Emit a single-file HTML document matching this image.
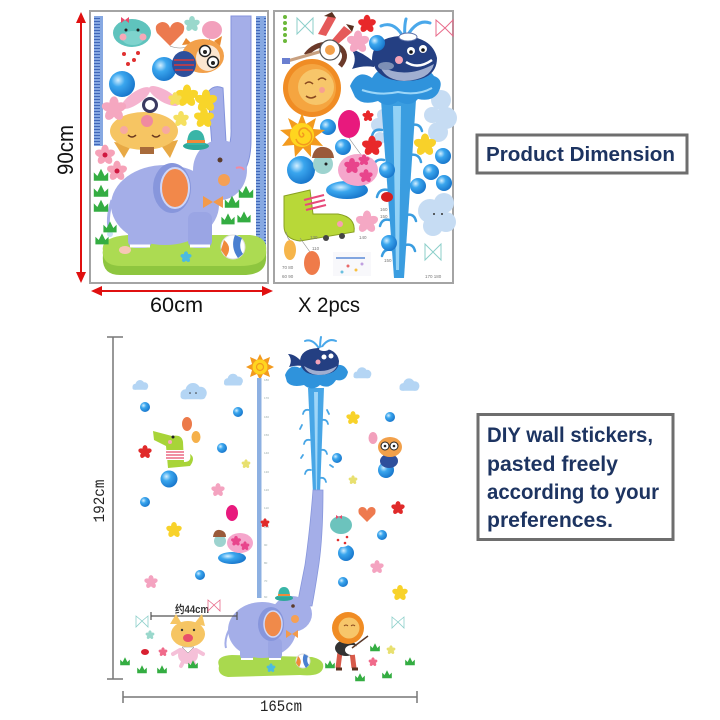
<!DOCTYPE html>
<html><head><meta charset="utf-8"><style>
html,body{margin:0;padding:0;background:#fff;}
svg{display:block;}
</style></head><body>
<svg width="720" height="720" viewBox="0 0 720 720" xmlns="http://www.w3.org/2000/svg" xmlns:xlink="http://www.w3.org/1999/xlink">
<defs>
<radialGradient id="bub" cx="0.35" cy="0.35" r="0.75"><stop offset="0" stop-color="#d4efff"/><stop offset="0.35" stop-color="#3aa6ee"/><stop offset="1" stop-color="#136fc6"/></radialGradient>
<pattern id="tk" width="10" height="3" patternUnits="userSpaceOnUse"><rect width="10" height="3" fill="#86a8e2"/><rect x="4" y="0" width="6" height="1" fill="#4067b8"/></pattern>
<g id="fl"><ellipse cx="0" cy="-0.55" rx="0.42" ry="0.6"/><ellipse cx="0" cy="-0.55" rx="0.42" ry="0.6" transform="rotate(72)"/><ellipse cx="0" cy="-0.55" rx="0.42" ry="0.6" transform="rotate(144)"/><ellipse cx="0" cy="-0.55" rx="0.42" ry="0.6" transform="rotate(216)"/><ellipse cx="0" cy="-0.55" rx="0.42" ry="0.6" transform="rotate(288)"/></g>
<g id="gr"><path d="M-6,4 L-6,-3 L-3,0 L0,-6 L3,0 L6,-3 L6,4 Z"/></g>
<g id="cl"><circle cx="-6" cy="1" r="4"/><circle cx="0" cy="-2" r="6"/><circle cx="6" cy="0" r="5"/><rect x="-10" y="0" width="20" height="5" rx="2.5"/></g>
</defs>

<!-- ===== TOP: red dimension arrows ===== -->
<line x1="81" y1="20" x2="81" y2="275" stroke="#e01010" stroke-width="2"/>
<polygon points="81,12 76,23 86,23" fill="#e01010"/>
<polygon points="81,283 76,272 86,272" fill="#e01010"/>
<line x1="100" y1="291" x2="264" y2="291" stroke="#e01010" stroke-width="2"/>
<polygon points="91,291 102,286 102,296" fill="#e01010"/>
<polygon points="273,291 262,286 262,296" fill="#e01010"/>
<text x="0" y="0" transform="translate(73,150) rotate(-90)" text-anchor="middle" font-family="Liberation Sans, sans-serif" font-size="22" fill="#111" textLength="50" lengthAdjust="spacingAndGlyphs">90cm</text>
<text x="150" y="312" font-family="Liberation Sans, sans-serif" font-size="21" fill="#111" textLength="53" lengthAdjust="spacingAndGlyphs">60cm</text>
<text x="298" y="312" font-family="Liberation Sans, sans-serif" font-size="21" fill="#111" textLength="62" lengthAdjust="spacingAndGlyphs">X 2pcs</text>

<!-- ===== TOP LEFT PANEL ===== -->
<rect x="90" y="11" width="178" height="272" fill="#fff" stroke="#a4a4a4" stroke-width="2"/>
<rect x="94" y="16" width="9" height="130" fill="url(#tk)"/>
<rect x="256" y="16" width="10" height="234" fill="url(#tk)"/>
<!-- trunk -->
<path d="M231,16 H251 V140 Q251,172 234,180 L220,160 Q232,150 231,128 Z" fill="#a4aee8" stroke="#8393dc" stroke-width="1"/>
<path d="M208,92 Q214,84 223,88 L226,142 L212,146 Z" fill="#a4aee8" stroke="#8393dc" stroke-width="1"/>
<!-- grass base -->
<path d="M103,255 Q100,240 128,237 H250 Q268,239 266,255 Q268,276 240,275 H122 Q101,276 103,255 Z" fill="#8ec63f"/>
<path d="M103,251 Q100,237 128,235 H250 Q268,237 266,251 Q266,266 240,266 H122 Q102,266 103,251 Z" fill="#acdb52"/>
<use xlink:href="#fl" transform="translate(186,257) scale(5)" fill="#4dbbe0"/>
<ellipse cx="125" cy="250" rx="6" ry="4" fill="#f7c7b5"/>
<!-- elephant -->
<ellipse cx="165" cy="205" rx="54" ry="40" fill="#a4aee8"/>
<rect x="128" y="212" width="24" height="36" rx="7" fill="#a4aee8"/>
<rect x="188" y="212" width="24" height="36" rx="7" fill="#9aa5e4"/>
<path d="M130,246 h20 M190,246 h20" stroke="#fff" stroke-width="3"/>
<ellipse cx="220" cy="170" rx="27" ry="30" fill="#a4aee8"/>
<path d="M112,200 Q106,220 110,232" stroke="#a4aee8" stroke-width="3" fill="none"/>
<circle cx="110" cy="234" r="3" fill="#c8e0f5"/>
<ellipse cx="172" cy="188" rx="19" ry="25" fill="#8796dc"/>
<ellipse cx="175" cy="188" rx="14" ry="20" fill="#f2884a" stroke="#cfd6f7" stroke-width="2"/>
<circle cx="220" cy="160" r="2.5" fill="#5b3b2b"/>
<circle cx="224" cy="180" r="6" fill="#f5a055"/>
<path d="M236,168 q6,-2 8,2" stroke="#f28aa0" stroke-width="2" fill="none"/>
<polygon points="203,196 213,202 203,208" fill="#f39a4a"/>
<polygon points="223,196 213,202 223,208" fill="#f39a4a"/>
<!-- hat -->
<ellipse cx="196" cy="146" rx="13" ry="4" fill="#2ea89a"/>
<path d="M187,145 Q187,130 196,130 Q205,130 205,145 Z" fill="#39b5a7"/>
<rect x="187" y="140" width="18" height="3" fill="#f08a3a"/>
<!-- ball -->
<circle cx="233" cy="247" r="12" fill="#fff" stroke="#ddd"/>
<path d="M224,240 Q233,247 226,257 L221,250 Z" fill="#f08a3a"/>
<path d="M235,235 Q230,247 238,258 L243,254 Q238,247 242,238 Z" fill="#4a7fd0"/>
<!-- grass tufts left / right -->
<g fill="#34ad42">
<use xlink:href="#gr" transform="translate(101,176) scale(1.2)"/>
<use xlink:href="#gr" transform="translate(101,192) scale(1.2)"/>
<use xlink:href="#gr" transform="translate(101,207) scale(1.2)"/>
<use xlink:href="#gr" transform="translate(110,228) scale(1.1)"/>
<use xlink:href="#gr" transform="translate(102,240) scale(1.1)"/>
<use xlink:href="#gr" transform="translate(246,193) scale(1.2)"/>
<use xlink:href="#gr" transform="translate(232,203) scale(1.2)"/>
<use xlink:href="#gr" transform="translate(228,220) scale(1.1)"/>
<use xlink:href="#gr" transform="translate(244,218) scale(1.1)"/>
</g>
<!-- cat upside down -->
<polygon points="114,142 124,158 132,144" fill="#e8a945"/>
<polygon points="160,144 170,158 178,140" fill="#e8a945"/>
<ellipse cx="144" cy="131" rx="34" ry="19" fill="#f6c563"/>
<circle cx="147" cy="121" r="6" fill="#f08aa0"/>
<path d="M128,135 q4,4 8,0 M152,135 q4,4 8,0" stroke="#6b3a1f" stroke-width="1.5" fill="none"/>
<circle cx="124" cy="130" r="4" fill="#f7a9a0"/><circle cx="166" cy="130" r="4" fill="#f7a9a0"/>
<rect x="140" y="147" width="14" height="7" fill="#a86b3a"/>
<!-- rabbit ears + hedgehog -->
<ellipse cx="136" cy="98" rx="17" ry="6" transform="rotate(-35 136 98)" fill="#f5b3cf"/>
<ellipse cx="164" cy="96" rx="17" ry="6" transform="rotate(30 164 96)" fill="#f5b3cf"/>
<circle cx="150" cy="105" r="8" fill="#3a3a60"/><circle cx="150" cy="105" r="5" fill="#fff"/>
<!-- hippo -->
<ellipse cx="130" cy="58" rx="15" ry="12" fill="#fff"/>
<circle cx="124" cy="54" r="2" fill="#e03030"/><circle cx="134" cy="60" r="2" fill="#e03030"/><circle cx="128" cy="64" r="2" fill="#e03030"/><circle cx="138" cy="53" r="2" fill="#e03030"/>
<ellipse cx="132" cy="33" rx="19" ry="14" fill="#5fc3bd"/>
<ellipse cx="133" cy="38" rx="11" ry="7" fill="#7ed3cd"/>
<circle cx="123" cy="37" r="3.5" fill="#f7a9b8"/><circle cx="143" cy="37" r="3.5" fill="#f7a9b8"/>
<path d="M121,17 l4,3 l4,-3 l0,6 l-4,-3 l-4,3 Z" fill="#e84a6a"/>
<circle cx="126" cy="30" r="1.5" fill="#222"/><circle cx="138" cy="30" r="1.5" fill="#222"/>
<circle cx="122" cy="84" r="13" fill="url(#bub)"/>
<circle cx="164" cy="69" r="12" fill="url(#bub)"/>
<!-- heart & pink balloon -->
<path d="M170,46 L157,33 Q153,24 162,22 Q168,22 170,28 Q172,22 178,22 Q187,24 183,33 Z" fill="#ec7a4f"/>
<ellipse cx="212" cy="30" rx="10" ry="9" fill="#f2a0bc"/>
<path d="M170,46 Q180,50 190,46 M210,39 Q205,45 200,50" stroke="#888" stroke-width="0.6" fill="none"/>
<!-- owl -->
<path d="M182,45 L186,38 L192,44 Z M214,41 L222,36 L220,46 Z" fill="#e88a30"/>
<ellipse cx="203" cy="56" rx="21" ry="17" fill="#f2a04a"/>
<ellipse cx="208" cy="58" rx="12" ry="13" fill="#fbe6d0"/>
<circle cx="205" cy="51" r="5.5" fill="#fff" stroke="#222" stroke-width="1.5"/>
<circle cx="213" cy="62" r="5.5" fill="#fff" stroke="#222" stroke-width="1.5"/>
<circle cx="205" cy="52" r="2" fill="#222"/><circle cx="213" cy="63" r="2" fill="#222"/>
<ellipse cx="184" cy="64" rx="12" ry="13" fill="#2e4f9c"/>
<path d="M174,60 h20 M174,65 h20 M175,70 h18" stroke="#d83a3a" stroke-width="1.5"/>
<!-- flowers -->
<use xlink:href="#fl" transform="translate(187,96) scale(10)" fill="#f8d52a"/>
<use xlink:href="#fl" transform="translate(206,101) scale(10)" fill="#f8d52a"/>
<use xlink:href="#fl" transform="translate(204,118) scale(9)" fill="#f8d52a"/>
<use xlink:href="#fl" transform="translate(181,119) scale(7)" fill="#f5e060"/>
<use xlink:href="#fl" transform="translate(175,99) scale(6)" fill="#f5e060"/>
<use xlink:href="#fl" transform="translate(114,109) scale(11)" fill="#f5a7c0"/>
<use xlink:href="#fl" transform="translate(105,155) scale(9)" fill="#f6a2b8"/>
<use xlink:href="#fl" transform="translate(117,171) scale(9)" fill="#f6a2b8"/>
<circle cx="105" cy="155" r="2.5" fill="#d01840"/><circle cx="117" cy="171" r="2.5" fill="#d01840"/>
<use xlink:href="#fl" transform="translate(192,24) scale(7)" fill="#9ad8cc"/>

<!-- ===== TOP RIGHT PANEL ===== -->
<rect x="274" y="11" width="179" height="272" fill="#fff" stroke="#a4a4a4" stroke-width="2"/>
<!-- clouds -->
<g fill="#c6dcf3">
<circle cx="441" cy="100" r="10"/><circle cx="446" cy="118" r="11"/><circle cx="438" cy="132" r="10"/><circle cx="432" cy="115" r="8"/>
<circle cx="430" cy="211" r="12"/><circle cx="444" cy="203" r="10"/><circle cx="446" cy="222" r="10"/><circle cx="433" cy="226" r="10"/>
<circle cx="378" cy="125" r="7"/><circle cx="383" cy="115" r="6"/><circle cx="380" cy="138" r="6"/>
<circle cx="294" cy="215" r="6"/><circle cx="300" cy="220" r="6"/><circle cx="290" cy="222" r="5"/>
</g>
<circle cx="434" cy="214" r="1" fill="#333"/><circle cx="442" cy="214" r="1" fill="#333"/>
<!-- water column -->
<path d="M381,100 L416,100 L404,278 L394,278 Z" fill="#3a9de0"/>
<path d="M393,106 L401,106 L399,270 L396,270 Z" fill="#92d2f6"/>
<g fill="none" stroke="#3a9de0" stroke-width="2.5" stroke-linecap="round">
<path d="M382,130 q-8,-2 -10,6"/><path d="M384,160 q-9,-2 -11,7"/><path d="M388,190 q-9,-2 -11,7"/><path d="M390,220 q-8,-2 -10,6"/><path d="M392,250 q-8,-2 -10,6"/>
<path d="M412,125 q8,-2 10,6"/><path d="M410,155 q9,-2 11,7"/><path d="M408,185 q9,-2 11,7"/><path d="M406,215 q8,-2 10,6"/><path d="M405,245 q8,-2 10,6"/>
</g>
<!-- splash crown -->
<path d="M350,86 Q358,68 372,78 Q380,64 392,74 Q402,62 412,72 Q424,62 434,76 Q445,80 438,93 Q432,102 418,99 Q410,108 398,101 Q388,109 378,101 Q362,106 355,97 Z" fill="#2f93dc"/>
<path d="M362,90 Q380,96 398,92 Q418,96 432,88" stroke="#9cd6f8" stroke-width="2" fill="none"/>
<g fill="none" stroke="#4aa8ea" stroke-width="3" stroke-linecap="round">
<path d="M405,40 Q395,20 381,26"/><path d="M405,40 Q416,18 430,23"/><path d="M405,40 Q404,26 406,19"/>
</g>
<!-- whale -->
<path d="M374,62 Q362,52 351,49 Q358,58 352,69 Q364,65 374,67 Z" fill="#243f82"/>
<path d="M372,60 Q372,38 400,36 Q432,36 437,58 Q437,81 404,81 Q377,81 372,60 Z" fill="#243f82"/>
<path d="M380,66 Q405,80 434,64 Q430,80 404,81 Q385,80 380,66 Z" fill="#a0aed0"/>
<ellipse cx="386" cy="66" rx="8" ry="4" fill="#7d8fb5"/>
<circle cx="411" cy="51" r="4" fill="#fff"/><circle cx="423" cy="49" r="4" fill="#fff"/>
<circle cx="411" cy="52" r="1.8" fill="#111"/><circle cx="423" cy="50" r="1.8" fill="#111"/>
<path d="M406,62 Q418,70 432,60" stroke="#fff" stroke-width="2.5" fill="none"/>
<circle cx="399" cy="60" r="4" fill="#f4a3b8"/>
<ellipse cx="408" cy="37" rx="9" ry="4" fill="#fff" stroke="#5a6fa8" stroke-width="1"/>
<!-- bubbles right panel -->
<circle cx="377" cy="43" r="8" fill="url(#bub)"/>
<circle cx="328" cy="127" r="8" fill="url(#bub)"/>
<circle cx="343" cy="147" r="8" fill="url(#bub)"/>
<circle cx="387" cy="170" r="8" fill="url(#bub)"/>
<circle cx="418" cy="186" r="8" fill="url(#bub)"/>
<circle cx="443" cy="156" r="8" fill="url(#bub)"/>
<circle cx="431" cy="172" r="8" fill="url(#bub)"/>
<circle cx="444" cy="183" r="8" fill="url(#bub)"/>
<circle cx="389" cy="243" r="8" fill="url(#bub)"/>
<circle cx="301" cy="170" r="14" fill="url(#bub)"/>
<!-- flowers right panel -->
<use xlink:href="#fl" transform="translate(367,24) scale(8)" fill="#e8282a"/>
<use xlink:href="#fl" transform="translate(372,146) scale(9)" fill="#e8282a"/>
<use xlink:href="#fl" transform="translate(368,116) scale(5)" fill="#e8282a"/>
<use xlink:href="#fl" transform="translate(358,42) scale(10)" fill="#f5a8c4"/>
<use xlink:href="#fl" transform="translate(367,222) scale(10)" fill="#f5a8c4"/>
<use xlink:href="#fl" transform="translate(425,145) scale(10)" fill="#f8d12a"/>
<!-- monkey -->
<path d="M318,34 L328,16 L336,18 L326,36 Z" fill="#e55a5a"/>
<path d="M332,40 L344,26 L352,32 L338,44 Z" fill="#e55a5a"/>
<path d="M324,16 l8,-4 l4,6 Z M346,24 l8,2 l-2,6 Z" fill="#5a3020"/>
<path d="M306,55 Q318,40 338,46 Q350,54 340,66" stroke="#6b3a2a" stroke-width="5" fill="none"/>
<line x1="284" y1="62" x2="326" y2="50" stroke="#c8a080" stroke-width="3"/>
<rect x="282" y="58" width="8" height="6" fill="#6a7fd0"/>
<circle cx="330" cy="50" r="10" fill="#fff" stroke="#555" stroke-width="1.2"/>
<circle cx="330" cy="50" r="5" fill="#f2a04a"/>
<!-- lion -->
<circle cx="312" cy="88" r="29" fill="#f08c24"/>
<circle cx="312" cy="88" r="24" fill="#f5a540"/>
<circle cx="316" cy="87" r="18" fill="#f7c66a"/>
<path d="M305,84 q4,-4 8,0 M318,80 q4,-4 8,0 M306,96 q5,4 10,0" stroke="#8a4a20" stroke-width="1.5" fill="none"/>
<circle cx="322" cy="90" r="3" fill="#f7a090"/>
<!-- sun -->
<polygon points="302,113 306,124 316,118 313,129 325,130 315,137 323,146 311,145 311,157 303,148 295,157 294,145 282,146 289,137 280,130 292,129 288,118 298,124" fill="#f39a1e"/>
<circle cx="302" cy="135" r="12" fill="#ffd51f"/>
<path d="M302,135 m0,-2 a2,2 0 1,1 -2,3 a5,5 0 1,1 8,-6 a8,8 0 1,1 -12,9" stroke="#f39a1e" stroke-width="1.5" fill="none"/>
<!-- pink balloon -->
<ellipse cx="349" cy="124" rx="11" ry="14" fill="#e8197d"/>
<path d="M349,138 Q356,148 362,156" stroke="#888" stroke-width="0.6" fill="none"/>
<!-- turtle -->
<ellipse cx="347" cy="190" rx="21" ry="9" fill="url(#bub)"/>
<ellipse cx="358" cy="170" rx="20" ry="16" fill="#f5a6cc"/>
<use xlink:href="#fl" transform="translate(352,166) scale(7)" fill="#e8458c"/>
<use xlink:href="#fl" transform="translate(366,176) scale(6)" fill="#e8458c"/>
<use xlink:href="#fl" transform="translate(364,160) scale(5)" fill="#e8458c"/>
<circle cx="323" cy="164" r="10" fill="#9dd3cf"/>
<path d="M312,158 Q314,146 324,147 Q333,148 334,158 Z" fill="#9a5a3a"/>
<circle cx="326" cy="164" r="1.5" fill="#222"/>
<!-- boot -->
<path d="M284,196 L310,190 L313,214 L338,214 Q356,217 354,232 L300,241 Q284,239 284,226 Z" fill="#b8d838" stroke="#88a020" stroke-width="1"/>
<path d="M304,200 l20,-5 M305,205 l20,-5 M306,210 l20,-5" stroke="#e84a7a" stroke-width="2"/>
<circle cx="326" cy="238" r="3" fill="#444"/><circle cx="342" cy="236" r="3" fill="#444"/>
<circle cx="340" cy="224" r="3" fill="#f7a0b0"/>
<!-- orange balloons -->
<path d="M286,232 Q288,240 290,240 M300,238 Q305,245 310,252" stroke="#888" stroke-width="0.6" fill="none"/>
<ellipse cx="290" cy="250" rx="6" ry="10" fill="#f6b54a"/>
<ellipse cx="312" cy="263" rx="8" ry="12" fill="#ef7b4a"/>
<!-- misc -->
<ellipse cx="387" cy="197" rx="6" ry="5" fill="#d82020"/>
<rect x="333" y="252" width="38" height="24" fill="#f8f8fb"/>
<line x1="336" y1="258" x2="365" y2="258" stroke="#5a8ad8" stroke-width="1.5"/>
<circle cx="348" cy="266" r="1.5" fill="#e86a6a"/><circle cx="356" cy="270" r="1.5" fill="#f8c040"/><circle cx="342" cy="272" r="1.5" fill="#6ac0e0"/><circle cx="362" cy="264" r="1.5" fill="#c0a0e0"/>
<g fill="#6bb83a"><circle cx="285" cy="17" r="2"/><circle cx="285" cy="23" r="2"/><circle cx="285" cy="29" r="2"/><circle cx="285" cy="35" r="2"/><circle cx="285" cy="41" r="2"/></g>
<g fill="none" stroke-width="1">
<path d="M297,18 L305,26 L297,34 Z M313,18 L305,26 L313,34 Z" stroke="#8ccfca"/>
<path d="M436,20 L445,28 L436,36 Z M453,20 L445,28 L453,36 Z" stroke="#e86a8a"/>
<path d="M425,244 L433,252 L425,260 Z M441,244 L433,252 L441,260 Z" stroke="#8ccfca"/>
</g>
<g font-family="Liberation Sans, sans-serif" font-size="4.5" fill="#777">
<text x="380" y="211">160</text><text x="380" y="218">150</text><text x="359" y="239">140</text>
<text x="310" y="239">130</text><text x="312" y="250">110</text><text x="282" y="269">70  80</text><text x="282" y="278">60  90</text>
<text x="384" y="262">150</text><text x="425" y="278">170  180</text>
</g>

<!-- ===== TEXT BOXES ===== -->
<rect x="477" y="135" width="210" height="38" fill="#fff" stroke="#6e6e6e" stroke-width="3"/>
<text x="486" y="161" font-family="Liberation Sans, sans-serif" font-weight="bold" font-size="20" fill="#1d3461" textLength="189" lengthAdjust="spacingAndGlyphs">Product Dimension</text>
<rect x="478" y="414.5" width="195" height="125" fill="#fff" stroke="#6e6e6e" stroke-width="3"/>
<g font-family="Liberation Sans, sans-serif" font-weight="bold" font-size="21" fill="#1d3461">
<text x="487" y="442" textLength="166" lengthAdjust="spacingAndGlyphs">DIY wall stickers,</text>
<text x="487" y="471" textLength="131" lengthAdjust="spacingAndGlyphs">pasted freely</text>
<text x="487" y="499" textLength="172" lengthAdjust="spacingAndGlyphs">according to your</text>
<text x="487" y="527" textLength="126" lengthAdjust="spacingAndGlyphs">preferences.</text>
</g>

<!-- ===== BOTTOM SCENE ===== -->
<line x1="113" y1="337" x2="113" y2="679" stroke="#777" stroke-width="1.5"/>
<line x1="107" y1="337" x2="123" y2="337" stroke="#777" stroke-width="1.5"/>
<line x1="107" y1="679" x2="123" y2="679" stroke="#777" stroke-width="1.5"/>
<line x1="123" y1="697" x2="417" y2="697" stroke="#777" stroke-width="1.5"/>
<line x1="123" y1="691" x2="123" y2="703" stroke="#777" stroke-width="1.5"/>
<line x1="417" y1="691" x2="417" y2="703" stroke="#777" stroke-width="1.5"/>
<text x="0" y="0" transform="translate(104,501) rotate(-90)" text-anchor="middle" font-family="Liberation Mono, monospace" font-size="16" fill="#222" textLength="43" lengthAdjust="spacingAndGlyphs">192cm</text>
<text x="260" y="711" font-family="Liberation Mono, monospace" font-size="16" fill="#222" textLength="42" lengthAdjust="spacingAndGlyphs">165cm</text>

<!-- clouds -->
<g fill="#b4d5f4">
<use xlink:href="#cl" transform="translate(140,386) scale(0.75)"/>
<use xlink:href="#cl" transform="translate(193,393) scale(1.25)"/>
<use xlink:href="#cl" transform="translate(233,381) scale(0.9)"/>
<use xlink:href="#cl" transform="translate(362,374) scale(0.85)"/>
<use xlink:href="#cl" transform="translate(409,386) scale(0.95)"/>
</g>
<circle cx="190" cy="393" r="0.8" fill="#333"/><circle cx="196" cy="393" r="0.8" fill="#333"/>
<!-- sun -->
<polygon points="260,354 263,360 270,357 268,364 274,367 268,370 270,377 263,374 260,380 257,374 250,377 252,370 246,367 252,364 250,357 257,360" fill="#f39a1e"/>
<circle cx="260" cy="367" r="7.5" fill="#ffd51f"/>
<circle cx="260" cy="367" r="3.5" fill="none" stroke="#f39a1e" stroke-width="1.2"/>
<!-- ruler -->
<rect x="257" y="378" width="4.5" height="220" fill="#8db0e2"/>
<g font-family="Liberation Sans, sans-serif" font-size="3" fill="#9aa">
<text x="264" y="381">180</text><text x="264" y="399">170</text><text x="264" y="418">160</text><text x="264" y="436">150</text>
<text x="264" y="454">140</text><text x="264" y="473">130</text><text x="264" y="491">120</text><text x="264" y="509">110</text>
<text x="264" y="528">100</text><text x="264" y="546">90</text><text x="264" y="564">80</text><text x="264" y="582">70</text><text x="264" y="598">60</text>
</g>
<use xlink:href="#fl" transform="translate(265,523) scale(4)" fill="#e02a2a"/>
<!-- water column bottom -->
<path d="M308,388 L324,388 L320,494 L313,494 Z" fill="#48a6e6"/>
<path d="M314,392 L318,392 L317,490 L316,490 Z" fill="#9fd6f8"/>
<g fill="none" stroke="#48a6e6" stroke-width="1.8" stroke-linecap="round">
<path d="M309,410 q-5,-1 -6,4"/><path d="M310,440 q-5,-1 -6,4"/><path d="M311,470 q-5,-1 -6,4"/>
<path d="M322,420 q5,-1 6,4"/><path d="M321,450 q5,-1 6,4"/><path d="M320,478 q5,-1 6,4"/>
<path d="M302,425 l-2,4"/><path d="M327,410 l2,4"/><path d="M303,455 l-2,3"/><path d="M330,465 l3,2"/>
</g>
<!-- splash bottom -->
<path d="M285,375 Q290,363 300,368 Q306,358 316,366 Q326,358 334,366 Q344,362 348,372 Q346,382 336,380 Q330,390 320,385 Q312,392 304,385 Q292,388 287,382 Z" fill="#2f93dc"/>
<g fill="none" stroke="#4aa8ea" stroke-width="2" stroke-linecap="round">
<path d="M320,350 Q313,338 305,341"/><path d="M320,350 Q327,337 336,341"/><path d="M320,350 Q320,342 321,337"/>
</g>
<!-- whale bottom -->
<path d="M302,362 Q295,354 288,354 Q293,360 289,367 Q296,365 302,366 Z" fill="#243f82"/>
<path d="M300,362 Q300,349 318,348 Q337,348 339,361 Q339,375 318,375 Q302,375 300,362 Z" fill="#243f82"/>
<path d="M304,366 Q320,376 337,366 Q333,375 318,375 Q307,374 304,366 Z" fill="#a0aed0"/>
<circle cx="324" cy="357" r="2.5" fill="#fff"/><circle cx="331" cy="356" r="2.5" fill="#fff"/>
<circle cx="318" cy="362" r="2.5" fill="#f4a3b8"/>
<ellipse cx="324" cy="349" rx="5" ry="2" fill="#fff"/>
<!-- trunk -->
<path d="M313,490 L323,490 Q323,540 318,570 Q315,590 312,606 L297,606 Q301,585 305,565 Q310,530 313,490 Z" fill="#a4aee8" stroke="#8796dc" stroke-width="0.8"/>
<!-- grass base bottom -->
<path d="M219,666 Q215,656 232,655 L312,657 Q325,660 323,668 Q321,677 300,675 L228,677 Q217,675 219,666 Z" fill="#a9d94e"/>
<use xlink:href="#fl" transform="translate(271,668) scale(4)" fill="#4dbbe0"/>
<!-- elephant bottom -->
<ellipse cx="262" cy="630" rx="34" ry="28" fill="#a4aee8"/>
<rect x="240" y="638" width="14" height="22" rx="5" fill="#a4aee8"/>
<rect x="268" y="638" width="14" height="22" rx="5" fill="#9aa5e4"/>
<path d="M241,659 h12 M269,659 h12" stroke="#fff" stroke-width="2"/>
<ellipse cx="292" cy="614" rx="20" ry="18" fill="#a4aee8"/>
<path d="M229,630 Q224,640 226,648" stroke="#a4aee8" stroke-width="2" fill="none"/>
<ellipse cx="271" cy="624" rx="13" ry="17" fill="#8796dc"/>
<ellipse cx="273" cy="624" rx="9" ry="13" fill="#f08a4a" stroke="#cfd6f7" stroke-width="1.5"/>
<circle cx="293" cy="606" r="1.8" fill="#5b3b2b"/>
<circle cx="295" cy="619" r="4" fill="#f5a055"/>
<polygon points="286,630 292,634 286,638" fill="#f39a4a"/><polygon points="298,630 292,634 298,638" fill="#f39a4a"/>
<ellipse cx="284" cy="598" rx="9" ry="3" fill="#2ea89a"/>
<path d="M278,597 Q278,587 284,587 Q290,587 290,597 Z" fill="#39b5a7"/>
<rect x="278" y="594" width="12" height="2" fill="#f08a3a"/>
<circle cx="303" cy="661" r="7" fill="#fff" stroke="#ddd"/>
<path d="M298,656 Q303,661 299,667 L296,663 Z" fill="#f08a3a"/><path d="M304,654 Q301,661 306,668 L309,665 Q306,661 308,656 Z" fill="#4a7fd0"/>
<!-- 44cm marker -->
<line x1="151" y1="616" x2="237" y2="616" stroke="#555" stroke-width="1.2"/>
<line x1="151" y1="612" x2="151" y2="620" stroke="#555" stroke-width="1.2"/>
<line x1="237" y1="612" x2="237" y2="620" stroke="#555" stroke-width="1.2"/>
<text x="175" y="613" font-family="Liberation Sans, 'Noto Sans CJK SC', sans-serif" font-size="11" font-weight="bold" fill="#333" textLength="34" lengthAdjust="spacingAndGlyphs">约44cm</text>
<!-- cat bottom -->
<ellipse cx="188" cy="655" rx="10" ry="9" fill="#f5c0d8"/>
<path d="M180,650 l-7,4 M196,650 l7,4 M183,662 l-2,4 M193,662 l2,4" stroke="#f5c0d8" stroke-width="4" stroke-linecap="round"/>
<path d="M182,647 h12 l-6,6 Z" fill="#fff" stroke="#888" stroke-width="0.5"/>
<polygon points="170,624 176,614 182,624" fill="#f6c563"/><polygon points="194,624 202,614 205,626" fill="#f6c563"/>
<ellipse cx="188" cy="634" rx="17" ry="13" fill="#f6c563"/>
<ellipse cx="188" cy="638" rx="5" ry="4" fill="#e8506a"/>
<circle cx="182" cy="630" r="1.2" fill="#333"/><circle cx="194" cy="630" r="1.2" fill="#333"/>
<!-- lion bottom -->
<path d="M340,652 l-2,16 M352,652 l2,16" stroke="#d85a4a" stroke-width="5"/>
<ellipse cx="346" cy="648" rx="11" ry="8" fill="#333"/>
<ellipse cx="352" cy="650" rx="7" ry="5" fill="#fff"/>
<line x1="352" y1="648" x2="368" y2="636" stroke="#5a3a2a" stroke-width="1.5"/>
<circle cx="348" cy="628" r="16" fill="#f08c24"/>
<circle cx="349" cy="628" r="10.5" fill="#f7c66a"/>
<path d="M344,626 q2,-2 4,0 M351,626 q2,-2 4,0" stroke="#8a4a20" stroke-width="1" fill="none"/>
<path d="M336,669 h6 M352,669 h6" stroke="#5a3020" stroke-width="3"/>
<!-- crocodile -->
<circle cx="169" cy="479" r="8.5" fill="url(#bub)"/>
<path d="M153,431 L172,436 Q182,434 183,442 L184,462 Q192,462 190,454 Q196,458 190,466 L168,468 L166,446 L154,440 Z" fill="#a8d438"/>
<rect x="166" y="450" width="18" height="10" fill="#fff"/>
<path d="M166,452 h18 M166,455 h18 M166,458 h18" stroke="#e84a6a" stroke-width="1.2"/>
<circle cx="173" cy="437" r="1.5" fill="#222"/><circle cx="170" cy="442" r="2" fill="#f7a9b8"/>
<ellipse cx="187" cy="424" rx="5" ry="7" fill="#ec7a4a"/>
<ellipse cx="196" cy="437" rx="4.5" ry="6" fill="#f5b04a"/>
<!-- owl bottom -->
<circle cx="386" cy="470" r="8" fill="url(#bub)"/>
<ellipse cx="389" cy="461" rx="9" ry="7" fill="#2e4f9c"/>
<ellipse cx="390" cy="447" rx="12" ry="10" fill="#f2a04a"/>
<circle cx="385" cy="446" r="4" fill="#fff" stroke="#222" stroke-width="1"/><circle cx="394" cy="446" r="4" fill="#fff" stroke="#222" stroke-width="1"/>
<circle cx="385" cy="446" r="1.3" fill="#222"/><circle cx="394" cy="446" r="1.3" fill="#222"/>
<ellipse cx="373" cy="438" rx="4.5" ry="6" fill="#f2a0bc"/>
<!-- turtle bottom -->
<ellipse cx="232" cy="558" rx="14" ry="6" fill="url(#bub)"/>
<ellipse cx="240" cy="543" rx="13" ry="10" fill="#f5a6cc"/>
<use xlink:href="#fl" transform="translate(236,541) scale(4.5)" fill="#e8458c"/>
<use xlink:href="#fl" transform="translate(245,546) scale(4)" fill="#e8458c"/>
<circle cx="220" cy="541" r="6" fill="#9dd3cf"/>
<path d="M213,537 Q214,529 220,530 Q226,531 226,537 Z" fill="#9a5a3a"/>
<ellipse cx="232" cy="513" rx="6" ry="8" fill="#e8197d"/>
<!-- hippo bottom -->
<circle cx="346" cy="553" r="8" fill="url(#bub)"/>
<ellipse cx="342" cy="540" rx="9" ry="7" fill="#fff"/>
<circle cx="338" cy="540" r="1.3" fill="#e03030"/><circle cx="345" cy="543" r="1.3" fill="#e03030"/><circle cx="347" cy="537" r="1.3" fill="#e03030"/>
<ellipse cx="341" cy="525" rx="11" ry="9" fill="#6cc3bd"/>
<path d="M336,515 l3,2 l3,-2 l0,4 l-3,-2 l-3,2 Z" fill="#e84a6a"/>
<path d="M367,522 L359,514 Q357,508 362,507 Q366,507 367,511 Q368,507 372,507 Q377,508 375,514 Z" fill="#ee7a4f"/>
<!-- bubbles bottom -->
<g fill="url(#bub)">
<circle cx="145" cy="407" r="5"/><circle cx="238" cy="412" r="5"/><circle cx="222" cy="448" r="5"/>
<circle cx="145" cy="502" r="5"/><circle cx="200" cy="575" r="5"/><circle cx="390" cy="417" r="5"/>
<circle cx="337" cy="458" r="5"/><circle cx="382" cy="535" r="5"/><circle cx="343" cy="582" r="5"/>
</g>
<!-- flowers bottom -->
<use xlink:href="#fl" transform="translate(145,452) scale(6)" fill="#e02a2a"/>
<use xlink:href="#fl" transform="translate(398,508) scale(6)" fill="#e02a2a"/>
<use xlink:href="#fl" transform="translate(174,530) scale(7)" fill="#f8d22a"/>
<use xlink:href="#fl" transform="translate(353,418) scale(6)" fill="#f8d22a"/>
<use xlink:href="#fl" transform="translate(400,593) scale(7)" fill="#f8d22a"/>
<use xlink:href="#fl" transform="translate(246,464) scale(4)" fill="#e8e070"/>
<use xlink:href="#fl" transform="translate(353,480) scale(4)" fill="#e8e070"/>
<use xlink:href="#fl" transform="translate(218,490) scale(6)" fill="#f4a3c0"/>
<use xlink:href="#fl" transform="translate(151,582) scale(6)" fill="#f4a3c0"/>
<use xlink:href="#fl" transform="translate(377,567) scale(6)" fill="#f4a3c0"/>
<use xlink:href="#fl" transform="translate(150,635) scale(4)" fill="#9ad8cc"/>
<use xlink:href="#fl" transform="translate(163,652) scale(4)" fill="#f06a8a"/>
<use xlink:href="#fl" transform="translate(373,662) scale(4)" fill="#f06a8a"/>
<use xlink:href="#fl" transform="translate(391,650) scale(4)" fill="#e8e070"/>
<ellipse cx="145" cy="652" rx="4" ry="3" fill="#d82030"/>
<!-- grass tufts bottom -->
<g fill="#34ad42">
<use xlink:href="#gr" transform="translate(142,670) scale(0.8)"/>
<use xlink:href="#gr" transform="translate(162,670) scale(0.8)"/>
<use xlink:href="#gr" transform="translate(193,665) scale(0.8)"/>
<use xlink:href="#gr" transform="translate(330,665) scale(0.8)"/>
<use xlink:href="#gr" transform="translate(360,678) scale(0.8)"/>
<use xlink:href="#gr" transform="translate(375,648) scale(0.8)"/>
<use xlink:href="#gr" transform="translate(387,675) scale(0.8)"/>
<use xlink:href="#gr" transform="translate(410,662) scale(0.8)"/>
<use xlink:href="#gr" transform="translate(125,662) scale(0.8)"/>
</g>
<!-- butterflies -->
<g fill="none" stroke-width="0.8">
<path d="M136,616 L142,621 L136,627 Z M148,616 L142,621 L148,627 Z" stroke="#8ccfca"/>
<path d="M208,600 L214,605 L208,611 Z M220,600 L214,605 L220,611 Z" stroke="#e86a8a"/>
<path d="M392,617 L398,622 L392,628 Z M404,617 L398,622 L404,628 Z" stroke="#8ccfca"/>
</g>
</svg>
</body></html>
